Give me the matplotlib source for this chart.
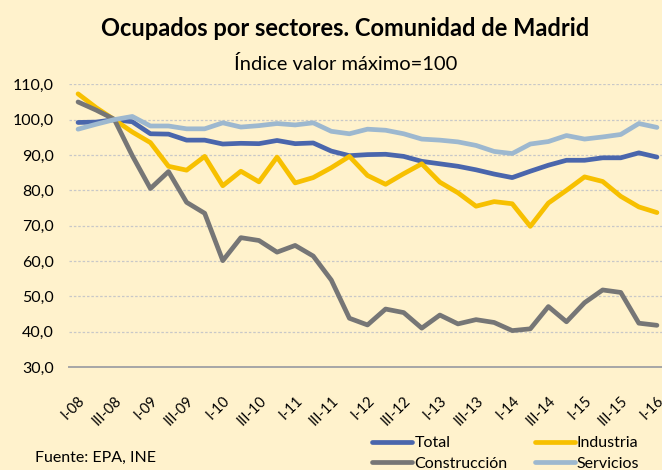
import matplotlib
matplotlib.use("Agg")
import matplotlib.pyplot as plt
from matplotlib.transforms import ScaledTranslation

plt.rcParams['font.family'] = ['Lato', 'DejaVu Sans']

# Trimestres I-08 .. I-16
quarters = []
for year in range(8, 17):
    for q in ["I", "II", "III", "IV"]:
        quarters.append(f"{q}-{year:02d}")
quarters = quarters[:33]

total = [99.2, 99.3, 100.0, 99.4, 96.0, 95.9, 94.2, 94.2, 93.1, 93.3, 93.2,
         94.1, 93.2, 93.4, 91.1, 89.8, 90.1, 90.2, 89.6, 88.2, 87.5, 86.8,
         85.8, 84.6, 83.6, 85.4, 87.1, 88.5, 88.5, 89.2, 89.2, 90.6, 89.4]
industria = [107.3, 103.4, 100.0, 96.5, 93.5, 86.8, 85.7, 89.6, 81.3, 85.4,
             82.4, 89.4, 82.1, 83.6, 86.4, 89.6, 84.2, 81.7, 84.7, 87.5, 82.3,
             79.3, 75.5, 76.8, 76.2, 69.8, 76.4, 80.0, 83.8, 82.5, 78.3, 75.3,
             73.7]
construccion = [105.0, 102.7, 100.1, 89.8, 80.5, 85.3, 76.6, 73.5, 60.1, 66.6,
                65.8, 62.5, 64.4, 61.4, 54.6, 43.8, 41.9, 46.4, 45.4, 41.0,
                44.7, 42.2, 43.4, 42.6, 40.3, 40.8, 47.1, 42.8, 48.2, 51.8,
                51.1, 42.4, 41.8]
servicios = [97.3, 98.7, 100.0, 100.9, 98.2, 98.2, 97.4, 97.4, 99.1, 97.9,
             98.3, 98.9, 98.5, 99.1, 96.7, 96.0, 97.3, 97.0, 96.0, 94.5, 94.2,
             93.7, 92.7, 91.0, 90.4, 93.1, 93.8, 95.5, 94.5, 95.1, 95.8, 98.9,
             97.8]

series = [("Total", total, "#4A66AC"),
          ("Industria", industria, "#F7C000"),
          ("Construcción", construccion, "#767676"),
          ("Servicios", servicios, "#9DB8CF")]

bg = "#FFF2CC"
fig = plt.figure(figsize=(6.62, 4.70), dpi=100, facecolor=bg)
ax = fig.add_axes([69 / 662, 1 - 367 / 470, 1 - 69 / 662, (367 - 84.3) / 470])
ax.set_facecolor(bg)

x = list(range(len(quarters)))
lines = {}
for name, vals, color in series:
    lines[name], = ax.plot(x, vals, color=color, lw=3.4, label=name,
                           solid_capstyle="round", solid_joinstyle="round")

ax.set_ylim(30, 110)
ax.set_xlim(-0.5, 32.28)
yt = list(range(30, 111, 10))
ax.set_yticks(yt)
ax.set_yticklabels([f"{v},0" for v in yt], fontsize=11.5)
ax.yaxis.grid(True, color="#C8C8C8", lw=0.9, ls=(0, (2, 1.5)))
ax.set_axisbelow(True)

ax.set_xticks(x[::2])
ax.set_xticklabels(quarters[::2], rotation=45, ha="right", va="top",
                   rotation_mode="anchor", fontsize=10.5)
xlabels = ax.get_xticklabels()
for i, lab in enumerate(xlabels):
    # the last label sits at the right edge, nudge it in a little more
    dx = -5 if i == len(xlabels) - 1 else -3
    lab.set_transform(lab.get_transform() +
                      ScaledTranslation(dx / 72, 0, fig.dpi_scale_trans))
ax.tick_params(axis="both", length=0)
ax.tick_params(axis="x", pad=19)
ax.tick_params(axis="y", pad=11)

for side in ["top", "right", "left"]:
    ax.spines[side].set_visible(False)
ax.spines["bottom"].set_color("#A6A6A6")
ax.spines["bottom"].set_linewidth(1.4)

fig.text(345 / 662, 1 - 28 / 470, "Ocupados por sectores. Comunidad de Madrid",
         ha="center", va="center", fontsize=17, fontweight="bold")
fig.text(346 / 662, 1 - 64 / 470, "Índice valor máximo=100",
         ha="center", va="center", fontsize=14.5)
fig.text(35 / 662, 1 - 458 / 470, "Fuente: EPA, INE", ha="left", va="center",
         fontsize=11.5)

# two columns, filled column-wise: Total/Construcción | Industria/Servicios
order = ["Total", "Construcción", "Industria", "Servicios"]
fig.legend([lines[n] for n in order], order, loc="upper left",
           bbox_to_anchor=(372 / 662, 1 - 436 / 470), ncol=2,
           frameon=False, fontsize=11.5, handlelength=2.5, handletextpad=0.15,
           columnspacing=1.7, labelspacing=0.4, borderaxespad=0, borderpad=0)

fig.savefig("out.png", dpi=100, facecolor=bg)
